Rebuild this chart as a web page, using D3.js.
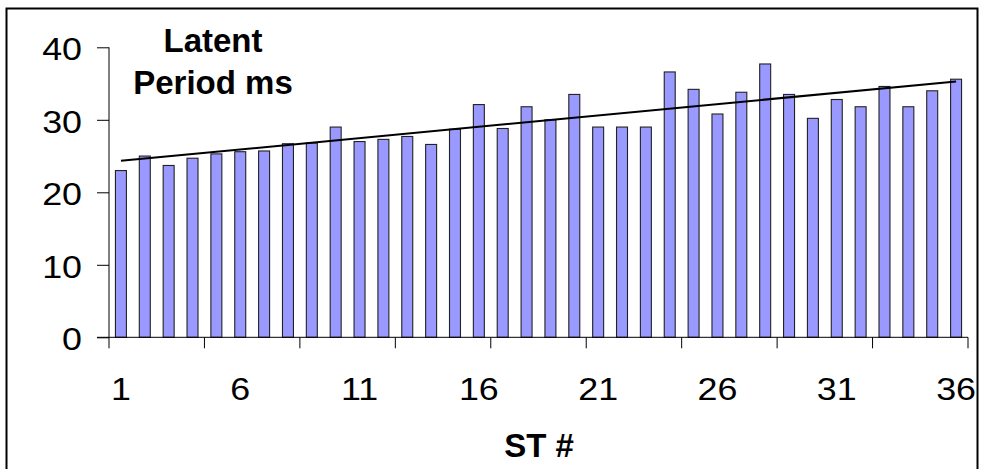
<!DOCTYPE html>
<html>
<head>
<meta charset="utf-8">
<script src="https://cdn.jsdelivr.net/npm/d3@7"></script>
<style>
  html, body { margin: 0; padding: 0; background: #fff; }
  svg { display: block; }
  text { font-family: "Liberation Sans", Arial, sans-serif; fill: #000; }
</style>
</head>
<body>
<svg id="chart" width="981" height="469"></svg>
<script>
// ---- data ----
const categories = d3.range(1, 37);
const latency = [23, 25, 23.7, 24.7, 25.3, 25.6, 25.7, 26.7, 26.8, 29.0,
                 27.0, 27.3, 27.7, 26.6, 28.7, 32.1, 28.8, 31.8, 30.0, 33.5,
                 29.0, 29.0, 29.0, 36.6, 34.2, 30.8, 33.8, 37.7, 33.5, 30.2,
                 32.8, 31.8, 34.6, 31.8, 34.0, 35.6];
const yTicks = [0, 10, 20, 30, 40];
const xLabels = [1, 6, 11, 16, 21, 26, 31, 36];
const xTickMarks = [1, 5, 9, 13, 17, 21, 25, 29, 33]; // tick mark every 4 categories (left edge)
const titleLines = ["Latent", "Period ms"];
const xTitle = "ST #";

// ---- layout ----
const svg = d3.select("#chart");
const pLeft = 109, pRight = 968, pTop = 47.3, pBottom = 337.3;

const x = d3.scaleBand().domain(categories).range([pLeft, pRight]).padding(0);
const y = d3.scaleLinear().domain([0, 40]).range([pBottom, pTop]);

// outer border
svg.append("rect")
  .attr("x", 6.5).attr("y", 8.5)
  .attr("width", 971).attr("height", 470)
  .attr("fill", "none").attr("stroke", "#000").attr("stroke-width", 2);

// bars
const bw = x.bandwidth() * 0.46;
svg.append("g").selectAll("rect")
  .data(latency)
  .join("rect")
  .attr("x", (d, i) => x(categories[i]) + (x.bandwidth() - bw) / 2)
  .attr("y", d => y(d))
  .attr("width", bw)
  .attr("height", d => y(0) - y(d))
  .attr("fill", "#9999FF")
  .attr("stroke", "#222")
  .attr("stroke-width", 1.1);

// linear trend line (least squares)
const n = latency.length;
const xs = categories;
const mx = d3.mean(xs), my = d3.mean(latency);
let sxy = 0, sxx = 0;
for (let i = 0; i < n; i++) { sxy += (xs[i] - mx) * (latency[i] - my); sxx += (xs[i] - mx) ** 2; }
const slope = sxy / sxx, intercept = my - slope * mx;
const trend = [xs[0], xs[n - 1]].map(c => [x(c) + x.bandwidth() / 2, y(intercept + slope * c)]);
svg.append("path")
  .attr("d", d3.line()(trend))
  .attr("stroke", "#000").attr("stroke-width", 2).attr("fill", "none");

// y axis
const yAxis = d3.axisLeft(y).tickValues(yTicks).tickSize(12).tickPadding(0).tickFormat(d3.format("d"));
const gy = svg.append("g").attr("transform", `translate(${pLeft},0)`).call(yAxis);
gy.select(".domain").attr("stroke", "#000").attr("d", `M0,${pTop}V${pBottom}`);
gy.selectAll(".tick line").attr("stroke", "#000");
gy.selectAll(".tick text")
  .attr("x", null).attr("dy", null)
  .attr("text-anchor", "end")
  .attr("dominant-baseline", "central")
  .attr("transform", "translate(-27,1) scale(1.12,1)")
  .style("font-size", "32px");

// x axis: line + tick marks
const gx = svg.append("g").attr("transform", `translate(0,${pBottom})`);
gx.append("line").attr("x1", pLeft - 12).attr("x2", pRight).attr("y1", 0).attr("y2", 0).attr("stroke", "#000");
const tickPos = xTickMarks.map(c => x(c)).concat([pRight]);
gx.selectAll("line.tk").data(tickPos).join("line")
  .attr("class", "tk")
  .attr("x1", d => d).attr("x2", d => d)
  .attr("y1", 0).attr("y2", 11)
  .attr("stroke", "#000");
gx.selectAll("text.lbl").data(xLabels).join("text")
  .attr("class", "lbl")
  .attr("text-anchor", "middle")
  .attr("transform", d => `translate(${x(d) + x.bandwidth() / 2},63) scale(1.12,1)`)
  .style("font-size", "32px")
  .text(d => d);

// title inside plot
svg.append("text")
  .attr("text-anchor", "middle")
  .style("font-size", "33px").style("font-weight", "bold")
  .selectAll("tspan").data(titleLines).join("tspan")
  .attr("x", 213)
  .attr("y", (d, i) => 52 + i * 42)
  .text(d => d);

// x axis title
svg.append("text")
  .attr("x", 539).attr("y", 457)
  .attr("text-anchor", "middle")
  .style("font-size", "33px").style("font-weight", "bold")
  .text(xTitle);
</script>
</body>
</html>
